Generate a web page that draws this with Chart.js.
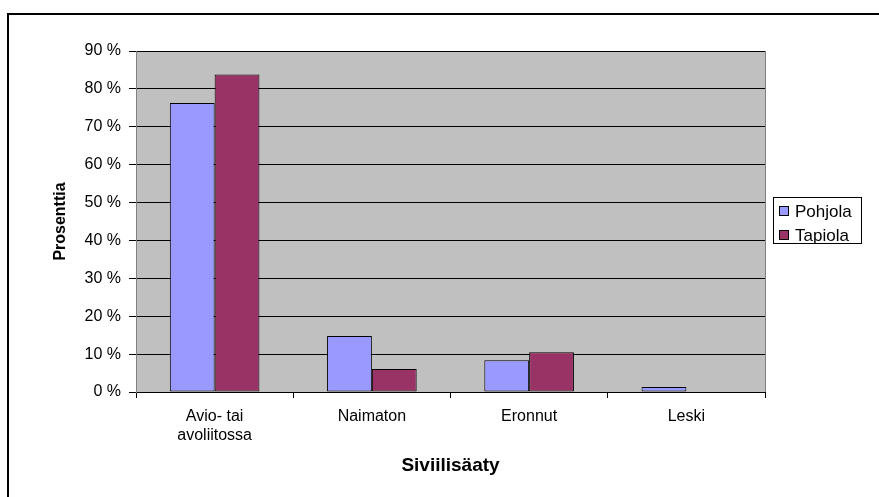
<!DOCTYPE html>
<html>
<head>
<meta charset="utf-8">
<script src="https://cdn.jsdelivr.net/npm/chart.js@4.4.1/dist/chart.umd.min.js"></script>
<style>
  html, body { margin: 0; padding: 0; background: #fff; }
  #wrap { position: relative; width: 879px; height: 497px; }
</style>
</head>
<body>
<div id="wrap"><canvas id="c" width="879" height="497"></canvas></div>
<script>
// Marital status shares by area (percent)
const categories = [["Avio- tai", "avoliitossa"], "Naimaton", "Eronnut", "Leski"];
const pohjola = [76.3, 14.8, 8.4, 1.3];
const tapiola = [83.8, 6.1, 10.5, 0];
const seriesNames = ["Pohjola", "Tapiola"];
const yTicks = [0, 10, 20, 30, 40, 50, 60, 70, 80, 90];

const FONT = "'Liberation Sans', Arial, sans-serif";
const colors = ["#9999FF", "#993366"];

// Gray plot background, frame lines and boxed legend
const decor = {
  id: 'decor',
  beforeDraw(chart) {
    const { ctx, chartArea: a } = chart;
    ctx.save();
    ctx.fillStyle = '#C0C0C0';
    ctx.fillRect(a.left, a.top, a.right - a.left, a.bottom - a.top);
    // outer frame (top and left edges)
    ctx.fillStyle = '#000';
    ctx.fillRect(7, 13, 872, 2);
    ctx.fillRect(7, 13, 2, 484);
    ctx.restore();
  },
  afterDraw(chart) {
    const { ctx, chartArea: a } = chart;
    ctx.save();
    // right plot border
    ctx.strokeStyle = '#808080';
    ctx.lineWidth = 1;
    ctx.beginPath();
    ctx.moveTo(a.right + 0.5, a.top);
    ctx.lineTo(a.right + 0.5, a.bottom);
    ctx.stroke();
    // legend
    const lx = 773, ly = 197, lw = 88, lh = 46;
    ctx.fillStyle = '#fff';
    ctx.fillRect(lx, ly, lw, lh);
    ctx.strokeStyle = '#000';
    ctx.strokeRect(lx + 0.5, ly + 0.5, lw, lh);
    ctx.font = '17px ' + FONT;
    ctx.textBaseline = 'middle';
    seriesNames.forEach((name, i) => {
      const y = ly + 14 + i * 24;
      ctx.fillStyle = colors[i];
      ctx.fillRect(lx + 6, y - 5, 10, 10);
      ctx.strokeStyle = '#000';
      ctx.strokeRect(lx + 6.5, y - 4.5, 9, 9);
      ctx.fillStyle = '#000';
      ctx.fillText(name, lx + 22, y + 1);
    });
    ctx.restore();
  }
};

new Chart(document.getElementById('c'), {
  type: 'bar',
  data: {
    labels: categories,
    datasets: [
      { label: seriesNames[0], data: pohjola, backgroundColor: colors[0], borderColor: '#000', borderWidth: 1, borderSkipped: false },
      { label: seriesNames[1], data: tapiola, backgroundColor: colors[1], borderColor: '#000', borderWidth: 1, borderSkipped: false }
    ]
  },
  options: {
    responsive: false,
    animation: false,
    events: [],
    layout: { padding: { left: 0, top: 51, right: 114, bottom: 0 } },
    plugins: { legend: { display: false }, tooltip: { enabled: false } },
    datasets: { bar: { categoryPercentage: 0.57, barPercentage: 1.0 } },
    scales: {
      x: {
        offset: true,
        grid: { display: true, offset: true, drawOnChartArea: false, color: '#000', tickLength: 6 },
        border: { display: true, color: '#000', width: 1 },
        ticks: { color: '#000', font: { family: FONT, size: 16 }, padding: 9, maxRotation: 0, autoSkip: false },
        title: { display: true, text: 'Siviilisäaty', color: '#000', font: { family: FONT, size: 19, weight: 'bold' }, padding: { top: 0, bottom: 20 } },
        afterFit(s) { s.height = 105; }
      },
      y: {
        min: 0, max: 90,
        afterBuildTicks(s) { s.ticks = yTicks.map(v => ({ value: v })); },
        grid: { color: '#000', tickLength: 7, drawTicks: true },
        border: { display: true, color: '#808080', width: 1 },
        ticks: { color: '#000', font: { family: FONT, size: 16 }, padding: 8, callback: v => v + ' %' },
        title: { display: true, text: 'Prosenttia', color: '#000', font: { family: FONT, size: 16, weight: 'bold' }, padding: { top: 51, bottom: 0 } },
        afterFit(s) { s.width = 136; }
      }
    }
  },
  plugins: [decor]
});
</script>
</body>
</html>
